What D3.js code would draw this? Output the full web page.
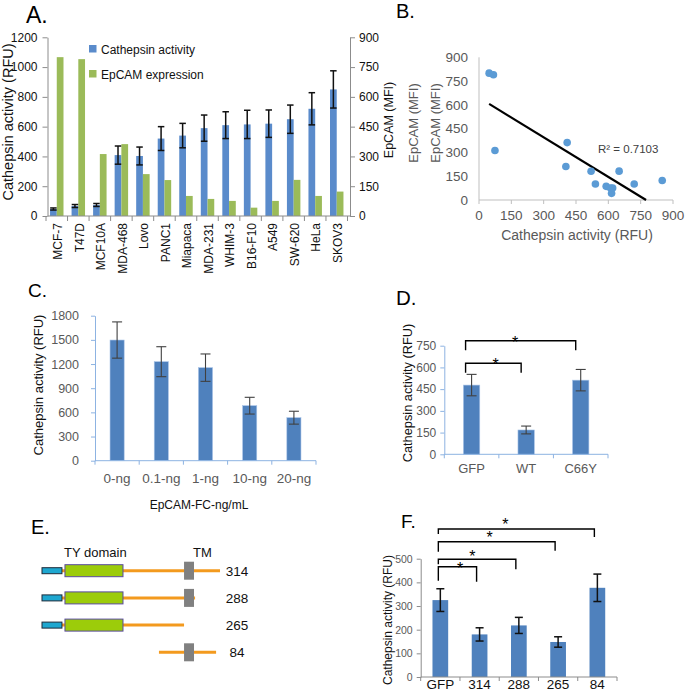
<!DOCTYPE html>
<html>
<head>
<meta charset="utf-8">
<script src="https://cdn.jsdelivr.net/npm/d3@7"></script>
<style>
  html, body { margin: 0; padding: 0; background: #fff; }
  svg { display: block; }
  text { font-family: "Liberation Sans", Arial, sans-serif; }
</style>
</head>
<body>
<svg id="fig" width="685" height="692"></svg>
<script>
// ---------------- DATA ----------------
// Panel A / B: cell lines
const cells = ['MCF-7','T47D','MCF10A','MDA-468','Lovo','PANC1','Miapaca','MDA-231','WHIM-3','B16-F10','A549','SW-620','HeLa','SKOV3'];
const cathepsin = [47, 67, 74, 409, 403, 520, 540, 590, 610, 615, 620, 650, 720, 850];
const cathepsinErr = [7, 10, 10, 61, 60, 80, 82, 88, 90, 95, 92, 95, 108, 125];
const epcam = [800, 790, 312, 362, 211, 181, 101, 86, 76, 42, 76, 182, 101, 123];
const leftTicksA = [0, 200, 400, 600, 800, 1000, 1200];
const rightTicksA = [0, 150, 300, 450, 600, 750, 900];
const legendA = ['Cathepsin activity', 'EpCAM expression'];
const ticksB = [0, 150, 300, 450, 600, 750, 900];
const r2Label = 'R² = 0.7103';

// Panel C: EpCAM-FC dose
const doses = ['0-ng', '0.1-ng', '1-ng', '10-ng', '20-ng'];
const doseActivity = [1498, 1229, 1155, 683, 534];
const doseErr = [225, 186, 170, 104, 80];
const ticksC = [0, 300, 600, 900, 1200, 1500, 1800];

// Panel D
const dGroups = ['GFP', 'WT', 'C66Y'];
const dActivity = [478, 168, 512];
const dErr = [74, 27, 74];
const ticksD = [0, 150, 300, 450, 600, 750];
const dSig = [['GFP', 'WT'], ['GFP', 'C66Y']];

// Panel E: construct schematic (schematic units 0-100)
const constructs = ['314', '288', '265', '84'];
const cLineStart = [11.2, 11.2, 11.2, 65.7];
const cLineEnd = [100, 86, 79.8, 97.8];
const cHasSignal = [true, true, true, false];
const cHasTY = [true, true, true, false];
const cHasTM = [true, true, false, true];
const signalSpan = [0, 11.2];
const tySpan = [12.9, 45.5];
const tmSpan = [79.8, 85.4];

// Panel F
const fGroups = ['GFP', '314', '288', '265', '84'];
const fActivity = [325, 180, 218, 148, 377];
const fErr = [48, 28, 34, 22, 58];
const ticksF = [0, 100, 200, 300, 400, 500];
const fSig = [['GFP', '314'], ['GFP', '288'], ['GFP', '265'], ['GFP', '84']];

// ---------------- STYLE ----------------
const BLUE = '#4f81bd';
const BLUE_A = '#5a8bcb';
const GREEN_A = '#9bbb59';
const AXIS_GRAY = '#8c8c8c';
const AXIS_BLUE = '#8db3e2';
const TXT_GRAY = '#595959';
const fmt = d3.format('d');

const svg = d3.select('#fig');
svg.append('rect').attr('width', 685).attr('height', 692).attr('fill', '#fff');

function label(g, txt, x, y, size, opts = {}) {
  const t = g.append('text').attr('x', x).attr('y', y).attr('font-size', size)
    .attr('fill', opts.fill || '#000').attr('text-anchor', opts.anchor || 'start').text(txt);
  if (opts.weight) t.attr('font-weight', opts.weight);
  return t;
}
function vlabel(g, txt, x, y, size, fill) {
  return g.append('text').attr('transform', `translate(${x},${y}) rotate(-90)`)
    .attr('text-anchor', 'middle').attr('dy', '0.35em').attr('font-size', size)
    .attr('fill', fill || '#000').text(txt);
}
function styleAxis(sel, color, textColor, fontSize) {
  sel.select('.domain').attr('stroke', color).attr('stroke-width', 1);
  sel.selectAll('.tick line').attr('stroke', color);
  sel.selectAll('.tick text').attr('fill', textColor).attr('font-size', fontSize)
    .attr('font-family', '"Liberation Sans", Arial, sans-serif');
}
function errorBars(g, xs, ys, vals, errs, capW, color, width) {
  vals.forEach((v, i) => {
    const x = xs[i];
    const y1 = ys(v + errs[i]), y2 = ys(v - errs[i]);
    g.append('line').attr('x1', x).attr('x2', x).attr('y1', y1).attr('y2', y2)
      .attr('stroke', color).attr('stroke-width', width);
    [y1, y2].forEach(yy => g.append('line').attr('x1', x - capW / 2).attr('x2', x + capW / 2)
      .attr('y1', yy).attr('y2', yy).attr('stroke', color).attr('stroke-width', width));
  });
}
function bracket(g, x1, x2, y, leg1, leg2, starFrac, starDy, starSize) {
  g.append('path')
    .attr('d', `M${x1},${y + leg1}V${y}H${x2}V${y + leg2}`)
    .attr('fill', 'none').attr('stroke', '#000').attr('stroke-width', 1.4);
  g.append('text').attr('x', x1 + (x2 - x1) * starFrac).attr('y', y + starDy)
    .attr('text-anchor', 'middle').attr('font-size', starSize).attr('fill', '#000').text('*');
}

// ---------------- PANEL A ----------------
{
  const g = svg.append('g');
  label(g, 'A.', 26, 23, 23);
  const x0 = 47.5, x1 = 350;
  const xA = d3.scaleBand().domain(cells).range([46, 347.5]);
  const xIn = d3.scaleBand().domain(['c', 'e']).range([0, xA.bandwidth()]).paddingInner(0).paddingOuter(0.6);
  const yL = d3.scaleLinear().domain([0, 1200]).range([216, 37.3]);
  const yR = d3.scaleLinear().domain([0, 900]).range([216, 37.3]);

  g.selectAll('rect.cat').data(cells).join('rect')
    .attr('x', c => xA(c) + xIn('c')).attr('width', xIn.bandwidth())
    .attr('y', (c, i) => yL(cathepsin[i])).attr('height', (c, i) => yL(0) - yL(cathepsin[i]))
    .attr('fill', BLUE_A);
  g.selectAll('rect.ep').data(cells).join('rect')
    .attr('x', c => xA(c) + xIn('e')).attr('width', xIn.bandwidth())
    .attr('y', (c, i) => yR(epcam[i])).attr('height', (c, i) => yR(0) - yR(epcam[i]))
    .attr('fill', GREEN_A);
  errorBars(g, cells.map(c => xA(c) + xIn('c') + xIn.bandwidth() / 2), yL, cathepsin, cathepsinErr, 6.5, '#111', 1.5);

  const axL = g.append('g').attr('transform', `translate(${x0},0)`)
    .call(d3.axisLeft(yL).tickValues(leftTicksA).tickFormat(fmt).tickSize(5).tickSizeOuter(0).tickPadding(5));
  styleAxis(axL, AXIS_GRAY, '#111', 12);
  const axR = g.append('g').attr('transform', `translate(${x1},0)`)
    .call(d3.axisRight(yR).tickValues(rightTicksA).tickFormat(fmt).tickSize(5).tickSizeOuter(0).tickPadding(4));
  styleAxis(axR, AXIS_GRAY, '#111', 12);
  g.append('line').attr('x1', x0).attr('x2', x1).attr('y1', 216).attr('y2', 216).attr('stroke', AXIS_GRAY);
  const bounds = cells.map(c => xA(c)).concat([xA.range()[1]]);
  g.selectAll('line.bt').data(bounds).join('line')
    .attr('x1', d => d).attr('x2', d => d).attr('y1', 216).attr('y2', 221).attr('stroke', AXIS_GRAY);
  cells.forEach(c => {
    g.append('text').attr('transform', `translate(${xA(c) + xA.bandwidth() / 2 + 1},223) rotate(-90)`)
      .attr('text-anchor', 'end').attr('dy', '0.35em').attr('font-size', 12).attr('fill', '#111').text(c);
  });
  vlabel(g, 'Cathepsin activity (RFU)', 8, 122, 14.5, '#111');
  vlabel(g, 'EpCAM (MFI)', 389, 120, 12.5, '#111');

  const lg = g.append('g');
  [BLUE_A, GREEN_A].forEach((col, i) => {
    lg.append('rect').attr('x', 89).attr('y', 45 + i * 25).attr('width', 7.5).attr('height', 7.5).attr('fill', col);
    label(lg, legendA[i], 101, 53.5 + i * 25, 12, { fill: '#111' });
  });
}

// ---------------- PANEL B ----------------
{
  const g = svg.append('g');
  label(g, 'B.', 396, 18, 20);
  const xB = d3.scaleLinear().domain([0, 900]).range([479, 673]);
  const yB = d3.scaleLinear().domain([0, 900]).range([200, 57.3]);
  g.append('line').attr('x1', xB(0)).attr('x2', xB(0)).attr('y1', yB(900)).attr('y2', yB(0)).attr('stroke', '#bfbfbf');
  g.append('line').attr('x1', xB(0)).attr('x2', xB(900)).attr('y1', yB(0)).attr('y2', yB(0)).attr('stroke', '#bfbfbf');
  g.selectAll('line.xt').data(ticksB).join('line')
    .attr('x1', d => xB(d)).attr('x2', d => xB(d)).attr('y1', yB(0)).attr('y2', yB(0) + 4).attr('stroke', '#bfbfbf');
  g.selectAll('text.yt').data(ticksB).join('text')
    .attr('x', 468).attr('y', d => yB(d)).attr('dy', '0.35em').attr('text-anchor', 'end')
    .attr('font-size', 13.5).attr('fill', TXT_GRAY).text(d => fmt(d));
  g.selectAll('text.xt').data(ticksB).join('text')
    .attr('x', d => xB(d)).attr('y', 220).attr('text-anchor', 'middle')
    .attr('font-size', 13.5).attr('fill', TXT_GRAY).text(d => fmt(d));
  label(g, 'Cathepsin activity (RFU)', 577, 240, 14, { anchor: 'middle', fill: TXT_GRAY });
  vlabel(g, 'EpCAM (MFI)', 413, 123, 13, TXT_GRAY);
  vlabel(g, 'EpCAM (MFI)', 435, 123, 13, TXT_GRAY);

  // least-squares trend line computed from the data
  const mx = d3.mean(cathepsin), my = d3.mean(epcam);
  let sxy = 0, sxx = 0;
  cathepsin.forEach((xv, i) => { sxy += (xv - mx) * (epcam[i] - my); sxx += (xv - mx) * (xv - mx); });
  const slope = sxy / sxx, icpt = my - slope * mx;
  const xStart = d3.min(cathepsin), xEnd = -icpt / slope;
  g.append('line').attr('x1', xB(xStart)).attr('y1', yB(icpt + slope * xStart))
    .attr('x2', xB(xEnd)).attr('y2', yB(0)).attr('stroke', '#000').attr('stroke-width', 2.2);

  g.selectAll('circle').data(cells).join('circle')
    .attr('cx', (c, i) => xB(cathepsin[i])).attr('cy', (c, i) => yB(epcam[i])).attr('r', 3.8)
    .attr('fill', '#5b9bd5');
  label(g, r2Label, 598, 153, 11.5, { fill: '#404040' });
}

// ---------------- PANEL C ----------------
{
  const g = svg.append('g');
  label(g, 'C.', 28, 297, 19);
  const xC = d3.scaleBand().domain(doses).range([95, 316]).paddingInner(0.68).paddingOuter(0.34);
  const xCb = d3.scaleBand().domain(doses).range([95, 316]);
  const yC = d3.scaleLinear().domain([0, 1800]).range([460.7, 315.7]);
  g.selectAll('rect').data(doses).join('rect')
    .attr('x', d => xC(d)).attr('width', xC.bandwidth())
    .attr('y', (d, i) => yC(doseActivity[i])).attr('height', (d, i) => yC(0) - yC(doseActivity[i]))
    .attr('fill', BLUE).attr('stroke', '#a9c4e8').attr('stroke-width', 0.6);
  errorBars(g, doses.map(d => xC(d) + xC.bandwidth() / 2), yC, doseActivity, doseErr, 10, '#404040', 1.1);
  const ay = g.append('g').attr('transform', 'translate(95,0)')
    .call(d3.axisLeft(yC).tickValues(ticksC).tickFormat(fmt).tickSize(4).tickSizeOuter(0).tickPadding(12));
  styleAxis(ay, AXIS_BLUE, TXT_GRAY, 12.5);
  g.append('line').attr('x1', 95).attr('x2', 316).attr('y1', yC(0)).attr('y2', yC(0)).attr('stroke', AXIS_BLUE);
  const bC = doses.map(d => xCb(d)).concat([316]);
  g.selectAll('line.bt').data(bC).join('line')
    .attr('x1', d => d).attr('x2', d => d).attr('y1', yC(0)).attr('y2', yC(0) + 4).attr('stroke', AXIS_BLUE);
  g.selectAll('text.xl').data(doses).join('text')
    .attr('x', d => xCb(d) + xCb.bandwidth() / 2).attr('y', 483).attr('text-anchor', 'middle')
    .attr('font-size', 13.5).attr('fill', TXT_GRAY).text(d => d);
  label(g, 'EpCAM-FC-ng/mL', 199, 509, 12, { anchor: 'middle', fill: '#111' });
  vlabel(g, 'Cathepsin activity (RFU)', 38, 385, 13, '#111');
}

// ---------------- PANEL D ----------------
{
  const g = svg.append('g');
  label(g, 'D.', 396, 305, 20.5);
  const xD = d3.scaleBand().domain(dGroups).range([444.3, 608]).paddingInner(0.7).paddingOuter(0.35);
  const xDb = d3.scaleBand().domain(dGroups).range([444.3, 608]);
  const yD = d3.scaleLinear().domain([0, 750]).range([454.3, 345.7]);
  g.selectAll('rect').data(dGroups).join('rect')
    .attr('x', d => xD(d)).attr('width', xD.bandwidth())
    .attr('y', (d, i) => yD(dActivity[i])).attr('height', (d, i) => yD(0) - yD(dActivity[i]))
    .attr('fill', BLUE).attr('stroke', '#a9c4e8').attr('stroke-width', 0.6);
  errorBars(g, dGroups.map(d => xD(d) + xD.bandwidth() / 2), yD, dActivity, dErr, 10, '#404040', 1.1);
  const ay = g.append('g').attr('transform', 'translate(444.3,0)')
    .call(d3.axisLeft(yD).tickValues(ticksD).tickFormat(fmt).tickSize(4).tickSizeOuter(0).tickPadding(4));
  styleAxis(ay, AXIS_BLUE, TXT_GRAY, 12);
  g.append('line').attr('x1', 444.3).attr('x2', 608).attr('y1', yD(0)).attr('y2', yD(0)).attr('stroke', AXIS_BLUE);
  const bD = dGroups.map(d => xDb(d)).concat([608]);
  g.selectAll('line.bt').data(bD).join('line')
    .attr('x1', d => d).attr('x2', d => d).attr('y1', yD(0)).attr('y2', yD(0) + 4).attr('stroke', AXIS_BLUE);
  g.selectAll('text.xl').data(dGroups).join('text')
    .attr('x', d => xDb(d) + xDb.bandwidth() / 2).attr('y', 473).attr('text-anchor', 'middle')
    .attr('font-size', 13).attr('fill', TXT_GRAY).text(d => d);
  vlabel(g, 'Cathepsin activity (RFU)', 408, 393, 12.8, '#111');
  const bY = [363.3, 340.7], fr = [0.54, 0.45];
  dSig.forEach((p, i) => {
    const xa = xD(p[0]) + xD.bandwidth() / 2 - 6, xb = xD(p[1]) + xD.bandwidth() / 2 - 5;
    bracket(g, xa, xb, bY[i], 9.5, 9.5, fr[i], 7, 16);
  });
}

// ---------------- PANEL E ----------------
{
  const g = svg.append('g');
  label(g, 'E.', 31, 534, 20);
  const eX = d3.scaleLinear().domain([0, 100]).range([42, 220]);
  const eY = d3.scalePoint().domain(constructs).range([570.7, 652.3]);
  label(g, 'TY domain', 64, 557, 13, { fill: '#111' });
  label(g, 'TM', 193, 557, 13, { fill: '#111' });
  constructs.forEach((c, i) => {
    const y = eY(c);
    g.append('line').attr('x1', eX(cLineStart[i])).attr('x2', eX(cLineEnd[i])).attr('y1', y).attr('y2', y)
      .attr('stroke', '#f39a1e').attr('stroke-width', 3);
    if (cHasSignal[i]) {
      g.append('rect').attr('x', eX(signalSpan[0])).attr('width', eX(signalSpan[1]) - eX(signalSpan[0]))
        .attr('y', y - 3).attr('height', 6).attr('fill', '#1ea7d0').attr('stroke', '#1d2b3a').attr('stroke-width', 1);
    }
    if (cHasTY[i]) {
      g.append('rect').attr('x', eX(tySpan[0])).attr('width', eX(tySpan[1]) - eX(tySpan[0]))
        .attr('y', y - 6).attr('height', 12).attr('fill', '#9ccc0a').attr('stroke', '#5a4aa0').attr('stroke-width', 1);
    }
    if (cHasTM[i]) {
      g.append('rect').attr('x', eX(tmSpan[0])).attr('width', eX(tmSpan[1]) - eX(tmSpan[0]))
        .attr('y', y - 9).attr('height', 18).attr('fill', '#808080');
    }
    label(g, c, 237, y + 5, 13.5, { anchor: 'middle', fill: '#111' });
  });
}

// ---------------- PANEL F ----------------
{
  const g = svg.append('g');
  label(g, 'F.', 401, 528, 19);
  const xF = d3.scaleBand().domain(fGroups).range([420.7, 617]).paddingInner(0.6).paddingOuter(0.3);
  const xFb = d3.scaleBand().domain(fGroups).range([420.7, 617]);
  const yF = d3.scaleLinear().domain([0, 500]).range([677, 558.7]);
  g.selectAll('rect').data(fGroups).join('rect')
    .attr('x', d => xF(d)).attr('width', xF.bandwidth())
    .attr('y', (d, i) => yF(fActivity[i])).attr('height', (d, i) => yF(0) - yF(fActivity[i]))
    .attr('fill', BLUE);
  errorBars(g, fGroups.map(d => xF(d) + xF.bandwidth() / 2), yF, fActivity, fErr, 8, '#111', 1.5);
  const ay = g.append('g').attr('transform', 'translate(420.7,0)')
    .call(d3.axisLeft(yF).tickValues(ticksF).tickFormat(fmt).tickSize(4).tickSizeOuter(0).tickPadding(4));
  styleAxis(ay, AXIS_GRAY, TXT_GRAY, 10.5);
  g.append('line').attr('x1', 420.7).attr('x2', 617).attr('y1', yF(0)).attr('y2', yF(0)).attr('stroke', AXIS_GRAY);
  const bF = fGroups.map(d => xFb(d)).concat([617]);
  g.selectAll('line.bt').data(bF).join('line')
    .attr('x1', d => d).attr('x2', d => d).attr('y1', yF(0)).attr('y2', yF(0) + 4).attr('stroke', AXIS_GRAY);
  g.selectAll('text.xl').data(fGroups).join('text')
    .attr('x', d => xFb(d) + xFb.bandwidth() / 2).attr('y', 689).attr('text-anchor', 'middle')
    .attr('font-size', 13.5).attr('fill', '#111').text(d => d);
  vlabel(g, 'Cathepsin activity (RFU)', 388, 620, 12, '#111');
  const bY = [566.7, 559.3, 541.7, 529];
  const legL = [14, 5, 10, 5], legR = [15, 10, 9, 8];
  const fr = [0.57, 0.44, 0.44, 0.43];
  const dys = [7, 3, 1, 0.5];
  fSig.forEach((p, i) => {
    const xa = xF(p[0]) + xF.bandwidth() / 2 - 2, xb = xF(p[1]) + xF.bandwidth() / 2 - 3;
    bracket(g, xa, xb, bY[i], legL[i], legR[i], fr[i], dys[i], 16);
  });
}
</script>
</body>
</html>
